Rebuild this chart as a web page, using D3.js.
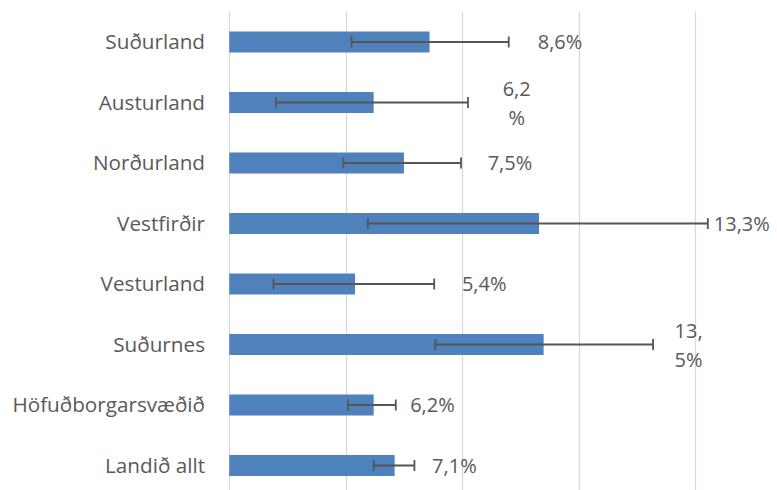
<!DOCTYPE html>
<html>
<head>
<meta charset="utf-8">
<script src="https://cdn.jsdelivr.net/npm/d3@7"></script>
<style>
  body { margin: 0; background: #fff; }
  svg text { font-family: "Open Sans", "Noto Sans", sans-serif; fill: #595959; }
</style>
</head>
<body>
<script>
// Chart data
var categories = ["Suðurland", "Austurland", "Norðurland", "Vestfirðir",
  "Vesturland", "Suðurnes", "Höfuðborgarsvæðið", "Landið allt"];
var values = [8.6, 6.2, 7.5, 13.3, 5.4, 13.5, 6.2, 7.1];
var errLow = [5.25, 2.0, 4.9, 5.95, 1.9, 8.85, 5.1, 6.2];
var errHigh = [12.0, 10.25, 9.95, 20.55, 8.8, 18.2, 7.15, 7.95];
var xTicks = [0, 5, 10, 15, 20];

// label placement tweaks (px from error bar end, and where Excel wrapped the text)
var labelDx = [29, 48.7, 26.7, 6, 27.7, 35.5, 14.4, 17.7];
var labelSplit = [null, 3, null, null, null, 3, null, null];

var width = 777,
  height = 490;

var svg = d3.select("body").append("svg")
  .attr("width", width)
  .attr("height", height);

var x = d3.scaleLinear()
  .domain([0, 20])
  .range([229.3, 695]);

var y = d3.scaleBand()
  .domain(categories)
  .range([11.75, 495.75])
  .paddingInner(0.653)
  .paddingOuter(0.3265);

var rows = categories.map(function (c, i) {
  return { cat: c, value: values[i], lo: errLow[i], hi: errHigh[i], i: i };
});

// gridlines
svg.append("g")
  .selectAll("line")
  .data(xTicks)
  .enter().append("line")
  .attr("x1", function (d) { return Math.round(x(d)) + 0.5; })
  .attr("x2", function (d) { return Math.round(x(d)) + 0.5; })
  .attr("y1", 11.7)
  .attr("y2", height)
  .attr("stroke", "#d9d9d9")
  .attr("stroke-width", 1.3);

// bars
svg.append("g")
  .selectAll("rect")
  .data(rows)
  .enter().append("rect")
  .attr("x", x(0))
  .attr("y", function (d) { return y(d.cat); })
  .attr("width", function (d) { return x(d.value) - x(0); })
  .attr("height", y.bandwidth())
  .attr("fill", "#4f81bd");

// error bars
var err = svg.append("g")
  .attr("stroke", "#555555")
  .attr("stroke-width", 1.8)
  .selectAll("g")
  .data(rows)
  .enter().append("g")
  .attr("transform", function (d) {
    return "translate(0," + (y(d.cat) + y.bandwidth() / 2) + ")";
  });

err.append("line")
  .attr("x1", function (d) { return x(d.lo); })
  .attr("x2", function (d) { return x(d.hi); });

err.append("line")
  .attr("x1", function (d) { return x(d.lo); })
  .attr("x2", function (d) { return x(d.lo); })
  .attr("y1", -5.5)
  .attr("y2", 5.5);

err.append("line")
  .attr("x1", function (d) { return x(d.hi); })
  .attr("x2", function (d) { return x(d.hi); })
  .attr("y1", -5.5)
  .attr("y2", 5.5);

// category labels
svg.append("g")
  .selectAll("text")
  .data(rows)
  .enter().append("text")
  .attr("x", 205)
  .attr("y", function (d) { return y(d.cat) + y.bandwidth() / 2; })
  .attr("dy", "0.35em")
  .attr("text-anchor", "end")
  .style("font-size", "20.7px")
  .text(function (d) { return d.cat; });

// data labels
function fmt(v) {
  return v.toFixed(1).replace(".", ",") + "%";
}

var labels = svg.append("g")
  .selectAll("text")
  .data(rows)
  .enter().append("text")
  .attr("x", function (d) { return x(d.hi) + labelDx[d.i]; })
  .attr("y", function (d) { return y(d.cat) + y.bandwidth() / 2; })
  .attr("dy", "0.35em")
  .attr("text-anchor", function (d) { return labelSplit[d.i] ? "middle" : "start"; })
  .style("font-size", "20px");

labels.each(function (d) {
  var t = d3.select(this);
  var s = fmt(d.value);
  var k = labelSplit[d.i];
  if (!k) {
    t.text(s);
    return;
  }
  var cx = x(d.hi) + labelDx[d.i];
  t.append("tspan").attr("x", cx).attr("dy", "-0.35em").text(s.slice(0, k));
  t.append("tspan").attr("x", cx).attr("dy", "1.45em").text(s.slice(k));
});
</script>
</body>
</html>
